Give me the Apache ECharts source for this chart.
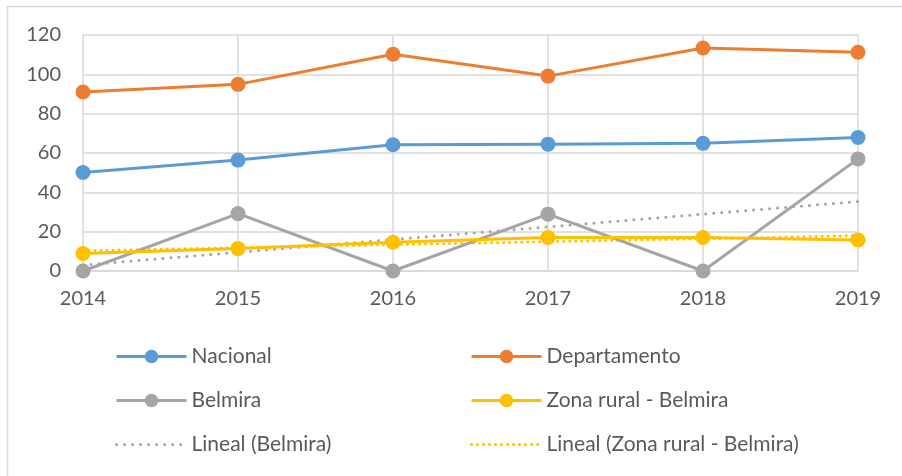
<!DOCTYPE html>
<html><head><meta charset="utf-8">
<script src="https://cdn.jsdelivr.net/npm/echarts@6/dist/echarts.min.js"></script>
<style>html,body{margin:0;padding:0;background:#fff}#c{width:902px;height:476px}</style>
</head><body><div id="c"></div>
<script>
var years = ['2014','2015','2016','2017','2018','2019'];
var nacional = [50.1, 56.4, 64.2, 64.5, 64.9, 67.9];
var departamento = [91.0, 94.9, 110.2, 99.1, 113.4, 111.2];
var belmira = [0, 29.2, 0, 28.9, 0, 57.0];
var zonaRural = [8.9, 11.4, 14.6, 17.0, 17.0, 15.8];
var linealBelmira = [3.0, 9.5, 16.0, 22.4, 28.9, 35.3];
var linealZona = [10.3, 11.8, 13.4, 14.9, 16.4, 18.0];
var yTicks = [0, 20, 40, 60, 80, 100, 120];

var FONT = 'Lato';
var TXT = '#595959';
var chart = echarts.init(document.getElementById('c'), null, {renderer:'canvas'});

function lineSeries(name, data, color) {
  return {name:name, type:'line', data:data, symbol:'circle', symbolSize:15,
    lineStyle:{color:color, width:3}, itemStyle:{color:color}, z:3, animation:false};
}
function trendSeries(name, data, color, gap) {
  return {name:name, type:'line', data:data, symbol:'none', showSymbol:false,
    lineStyle:{color:color, width:3, type:[0.01, gap], cap:'round'}, itemStyle:{color:color}, z:2, animation:false};
}
var legendText = {fontFamily:FONT, fontSize:21, color:TXT};
function legendCol(left, names) {
  return {left:left, top:341, orient:'vertical', itemWidth:70, itemHeight:17, itemGap:23,
    textStyle:legendText, lineStyle:{width:3},
    data:names.map(function(n, i){
      return i === 2 ? {name:n, itemStyle:{opacity:0}} : {name:n};
    })};
}
chart.setOption({
  animation:false,
  graphic:[{type:'rect', shape:{x:7.5, y:6.5, width:1000, height:1000}, style:{fill:'none', stroke:'#d9d9d9', lineWidth:1.5}, silent:true}],
  grid:{left:83, right:44, top:35, bottom:205},
  xAxis:{type:'category', data:years, boundaryGap:false,
    axisLine:{lineStyle:{color:'#d9d9d9', width:1.5}}, axisTick:{show:false},
    splitLine:{show:true, lineStyle:{color:'#d9d9d9', width:1.5}},
    axisLabel:{fontFamily:FONT, fontSize:20, color:TXT, margin:18}},
  yAxis:{type:'value', min:yTicks[0], max:yTicks[yTicks.length-1], interval:20,
    axisLine:{show:false}, axisTick:{show:false},
    splitLine:{lineStyle:{color:'#d9d9d9', width:1.5}},
    axisLabel:{fontFamily:FONT, fontSize:20, color:TXT, margin:22}},
  legend:[
    legendCol(110, ['Nacional','Belmira','Lineal (Belmira)']),
    legendCol(465, ['Departamento','Zona rural - Belmira','Lineal (Zona rural - Belmira)'])
  ],
  series:[
    lineSeries('Nacional', nacional, '#5b9bd5'),
    lineSeries('Departamento', departamento, '#ed7d31'),
    lineSeries('Belmira', belmira, '#a5a5a5'),
    lineSeries('Zona rural - Belmira', zonaRural, '#ffc000'),
    trendSeries('Lineal (Belmira)', linealBelmira, '#a5a5a5', 8),
    trendSeries('Lineal (Zona rural - Belmira)', linealZona, '#ffc000', 6)
  ]
});
</script></body></html>
